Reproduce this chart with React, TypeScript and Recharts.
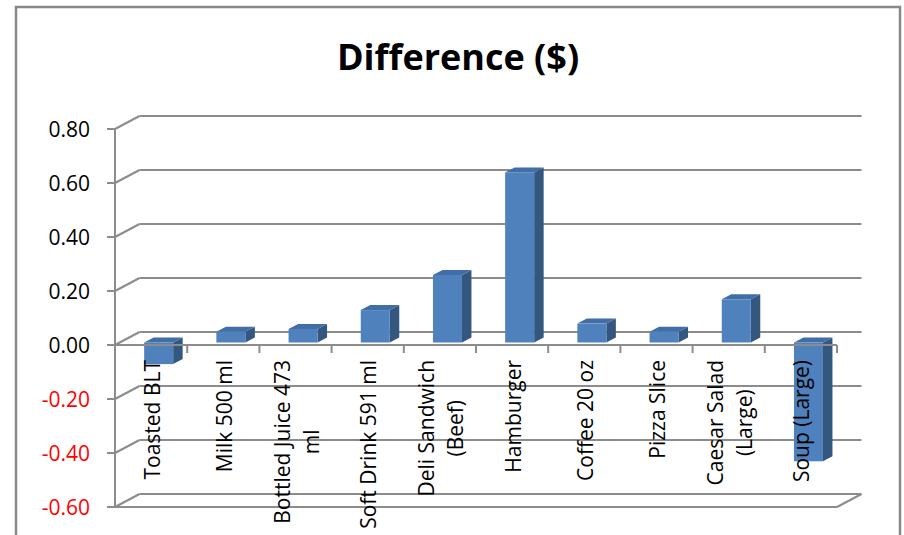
import React from 'react';
import { BarChart, Bar, XAxis, YAxis, CartesianGrid, ReferenceLine } from 'recharts';

// Difference in price per menu item ($)
const categories = [
  'Toasted BLT',
  'Milk 500 ml',
  'Bottled Juice 473 ml',
  'Soft Drink 591 ml',
  'Deli Sandwich (Beef)',
  'Hamburger',
  'Coffee 20 oz',
  'Pizza Slice',
  'Caesar Salad (Large)',
  'Soup (Large)',
];
// how the category labels wrap under the axis
const categoryLines = [
  ['Toasted BLT'],
  ['Milk 500 ml'],
  ['Bottled Juice 473', 'ml'],
  ['Soft Drink 591 ml'],
  ['Deli Sandwich', '(Beef)'],
  ['Hamburger'],
  ['Coffee 20 oz'],
  ['Pizza Slice'],
  ['Caesar Salad', '(Large)'],
  ['Soup (Large)'],
];
const differences = [-0.08, 0.04, 0.05, 0.12, 0.25, 0.63, 0.07, 0.04, 0.16, -0.44];
const yTicks = [-0.6, -0.4, -0.2, 0, 0.2, 0.4, 0.6, 0.8];

const data = categories.map((name, i) => ({ name, value: differences[i], lines: categoryLines[i] }));

const W = 904;
const H = 535;
const FONT = '"Open Sans", sans-serif';
const LABEL_SIZE = 21;
const GRID = '#8c8c8c';
// fake 3d: wall depth and bar depth offsets
const WALL_DX = 24.5;
const WALL_DY = 13;
const BAR_DX = 9.5;
const BAR_DY = 5;
const BAR_SHIFT_X = 7.5;
const BAR_SHIFT_Y = 2.5;

let ctx: CanvasRenderingContext2D | null = null;
const textWidth = (t: string) => {
  if (!ctx) ctx = document.createElement('canvas').getContext('2d');
  if (!ctx) return t.length * LABEL_SIZE * 0.52;
  ctx.font = `${LABEL_SIZE}px "Open Sans"`;
  return ctx.measureText(t).width;
};

const Bar3D = (props: any) => {
  const { x, y, width, height } = props;
  const top = Math.min(y, y + height) - BAR_SHIFT_Y;
  const bot = Math.max(y, y + height) - BAR_SHIFT_Y;
  const fx = x + BAR_SHIFT_X;
  const rx = fx + width;
  return (
    <g>
      <polygon
        points={`${rx},${top} ${rx + BAR_DX},${top - BAR_DY} ${rx + BAR_DX},${bot - BAR_DY} ${rx},${bot}`}
        fill="#34577f"
      />
      <polygon
        points={`${fx},${top} ${fx + BAR_DX},${top - BAR_DY} ${rx + BAR_DX},${top - BAR_DY} ${rx},${top}`}
        fill="#416ea6"
      />
      <rect x={fx} y={top} width={width} height={bot - top} fill="#4f81bd" />
    </g>
  );
};

// back wall + side wall gridlines
const wallLine = (props: any) => {
  const { x1, x2, y1 } = props;
  return (
    <g key={`wall-${y1}`}>
      <line x1={x1} y1={y1} x2={x1 + WALL_DX} y2={y1 - WALL_DY} stroke={GRID} strokeWidth={2} />
      <line x1={x1 + WALL_DX} y1={y1 - WALL_DY} x2={x2 + WALL_DX} y2={y1 - WALL_DY} stroke={GRID} strokeWidth={2} />
    </g>
  );
};

const floorEdge = (props: any) => {
  const { x1, x2, y1 } = props;
  return (
    <g>
      <line x1={x1} y1={y1} x2={x2} y2={y1} stroke={GRID} strokeWidth={2} />
      <line x1={x2} y1={y1} x2={x2 + WALL_DX} y2={y1 - WALL_DY} stroke={GRID} strokeWidth={2} />
    </g>
  );
};

// category axis drawn at zero, with rotated labels
const categoryAxis = (props: any) => {
  const { x1, x2, y1 } = props;
  const n = data.length;
  const step = (x2 - x1) / n;
  const ty = y1 + 15;
  return (
    <g>
      <line x1={x1} y1={y1} x2={x2} y2={y1} stroke={GRID} strokeWidth={2} />
      {Array.from({ length: n + 1 }, (_, i) => (
        <line key={`t${i}`} x1={x1 + i * step} y1={y1} x2={x1 + i * step} y2={y1 + 8} stroke={GRID} strokeWidth={2} />
      ))}
      {data.map((d, i) => {
        const cx = x1 + (i + 0.5) * step + 1;
        const L = Math.max(...d.lines.map(textWidth));
        return (
          <g key={d.name} transform={`translate(${cx},${ty}) rotate(-90)`}>
            {d.lines.map((line, j) => (
              <text
                key={j}
                x={-L / 2}
                y={(j - (d.lines.length - 1) / 2) * 29}
                dy="0.36em"
                textAnchor="middle"
                fontFamily={FONT}
                fontSize={LABEL_SIZE}
                fill="#000"
              >
                {line}
              </text>
            ))}
          </g>
        );
      })}
    </g>
  );
};

const YTick = (props: any) => {
  const { x, y, payload } = props;
  const v = payload.value as number;
  return (
    <text x={x} y={y} dy="0.36em" textAnchor="end" fontFamily={FONT} fontSize={LABEL_SIZE} fill={v < 0 ? '#ff0000' : '#000'}>
      {v.toFixed(2)}
    </text>
  );
};

export default function App() {
  return (
    <div style={{ position: 'relative', width: W, height: H, overflow: 'hidden', background: '#fff' }}>
      <style>{'body{margin:0}'}</style>
      <svg width={W} height={H} style={{ position: 'absolute', left: 0, top: 0 }}>
        <rect x={16} y={7} width={884} height={H + 20} fill="#fff" stroke="#888" strokeWidth={2.5} />
        <text x={458} y={70} textAnchor="middle" fontFamily={FONT} fontWeight="bold" fontSize={36} fill="#000">
          Difference ($)
        </text>
      </svg>
      <div style={{ position: 'absolute', left: 0, top: 0 }}>
        <BarChart
          width={W}
          height={H}
          data={data}
          margin={{ top: 129, right: 67, left: 0, bottom: 28 }}
          barCategoryGap="30%"
          style={{ overflow: 'visible' }}
        >
          <CartesianGrid vertical={false} horizontal={wallLine} />
          <XAxis dataKey="name" hide />
          <YAxis
            domain={[-0.6, 0.8]}
            ticks={yTicks}
            width={115}
            interval={0}
            axisLine={{ stroke: GRID, strokeWidth: 2 }}
            tickLine={{ stroke: GRID, strokeWidth: 2 }}
            tickSize={8}
            tickMargin={17}
            tick={<YTick />}
          />
          <ReferenceLine y={yTicks[0]} shape={floorEdge} />
          <Bar dataKey="value" shape={Bar3D} isAnimationActive={false} />
          <ReferenceLine y={0} shape={categoryAxis} />
        </BarChart>
      </div>
    </div>
  );
}
